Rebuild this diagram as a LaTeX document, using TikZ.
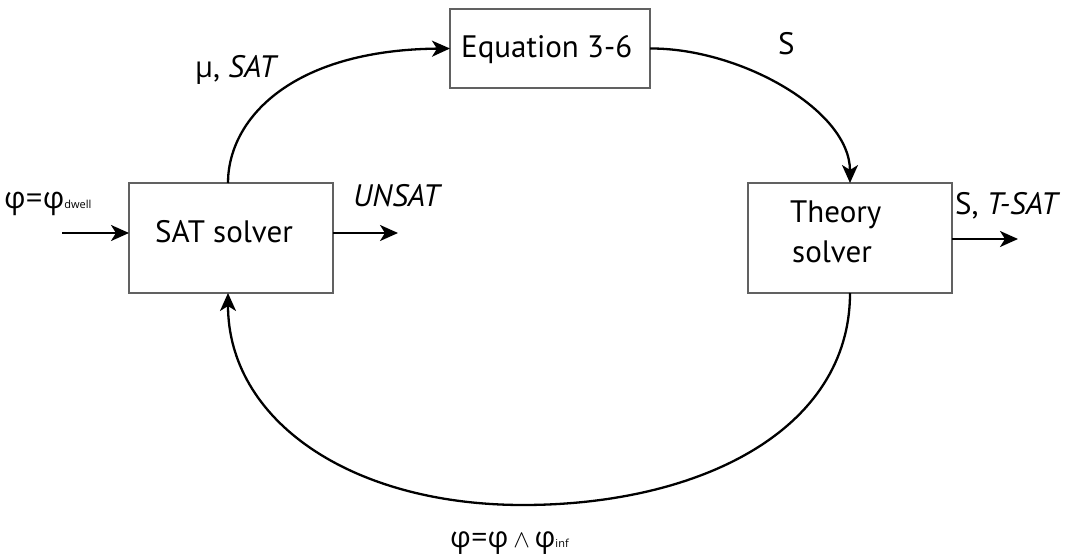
\documentclass[tikz,border=0pt]{standalone}
\usepackage{fontspec}
\setmainfont{PT Sans}
\newfontfamily\grk{Open Sans}
\usetikzlibrary{arrows.meta}
\begin{document}
\begin{tikzpicture}[x=1pt,y=-1pt,
  box/.style={draw=black!62, line width=1.6pt, inner sep=0pt, outer sep=0pt, anchor=north west},
  lbl/.style={inner sep=0pt, font=\fontsize{31}{38}\selectfont, anchor=base west},
  conn/.style={line width=2.3pt, -{Stealth[length=18pt,width=16pt,inset=5pt]}},
]
\useasboundingbox[fill=white] (0,0) rectangle (1071,556);
% boxes
\node[box, minimum width=200pt, minimum height=79pt] (eq) at (450,9) {};
\node[box, minimum width=204pt, minimum height=110pt] (sat) at (129,183) {};
\node[box, minimum width=204pt, minimum height=110pt] (th) at (748,183) {};
% box texts
\node[lbl] (eqt) at (461,58) {Equation 3-6};
\node[lbl] (satt) at (155,243) {SAT solver};
\node[lbl] (tht1) at (790,223) {Theory};
\node[lbl] (tht2) at (792,262) {solver};
% labels
\node[lbl] (mu) at (195,78) {{\grk\fontsize{29}{34}\selectfont μ}, \textit{SAT}};
\node[lbl] (slab) at (778,55) {S};
\node[lbl] (unsat) at (353,207) {\textit{UNSAT}};
\node[lbl] (tsat) at (955,215) {S, \textit{T-SAT}};
\node[lbl, font=\fontsize{30}{34}\selectfont] (phin) at (4,209) {\grk φ=φ{\fontsize{11}{12}\selectfont dwell}};
\node[lbl, font=\fontsize{29}{34}\selectfont] (phib) at (450,547) {\grk φ=φ\,$\wedge$\,φ{\fontsize{11}{12}\selectfont inf}};
% coordinates
\coordinate (inS) at (62,233);
\coordinate (unsatE) at (398,233);
\coordinate (tsatE) at (1018,239);
\coordinate (bot) at (523,505);
% straight arrows
\draw[conn] (inS) -- (inS -| sat.west);
\draw[conn] (unsatE -| sat.east) -- (unsatE);
\draw[conn] (tsatE -| th.east) -- (tsatE);
% curves
\draw[conn] ([xshift=-3pt]sat.north) .. controls (228,120) and (290,50) .. (eq.west);
\draw[conn] (eq.east) .. controls (740,48) and (850,110) .. (th.north);
\draw[conn] (th.south) .. controls (850,430) and (700,505) .. (bot) .. controls (350,505) and (228,420) .. ([xshift=-3pt]sat.south);
\end{tikzpicture}
\end{document}
